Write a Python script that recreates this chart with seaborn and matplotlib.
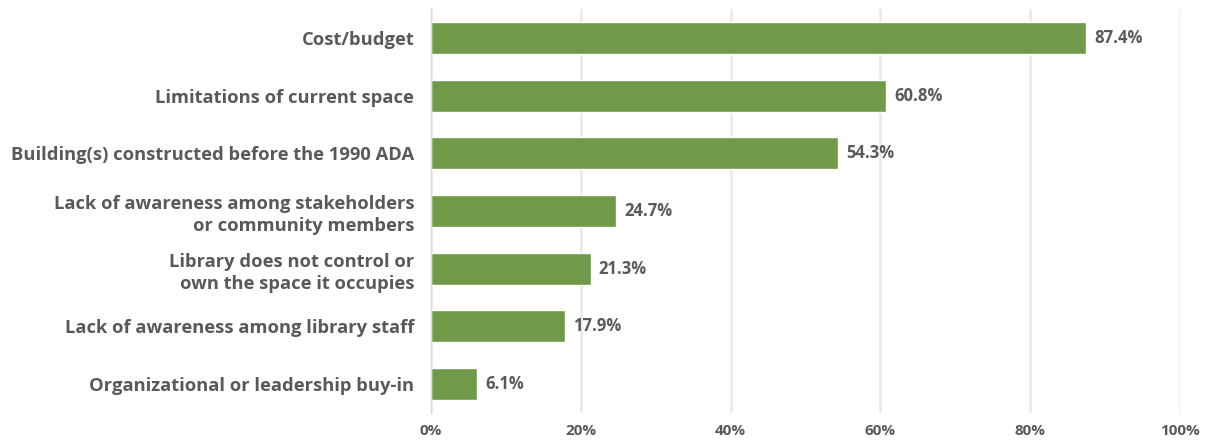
import matplotlib
matplotlib.use("Agg")
import matplotlib.pyplot as plt
import seaborn as sns
import pandas as pd
from matplotlib.ticker import FuncFormatter

categories = [
    "Cost/budget",
    "Limitations of current space",
    "Building(s) constructed before the 1990 ADA",
    "Lack of awareness among stakeholders\nor community members",
    "Library does not control or\nown the space it occupies",
    "Lack of awareness among library staff",
    "Organizational or leadership buy-in",
]
values = [87.4, 60.8, 54.3, 24.7, 21.3, 17.9, 6.1]
x_ticks = [0, 20, 40, 60, 80, 100]

df = pd.DataFrame({"category": categories, "value": values})

sns.set_theme(style="white")
plt.rcParams["font.family"] = ["Open Sans", "DejaVu Sans"]

text_color = "#595959"
bar_color = "#71994A"

fig = plt.figure(figsize=(12.09, 4.42), dpi=100)
ax = fig.add_axes([0.3565, 0.066, 0.6195, 0.913])

sns.barplot(data=df, x="value", y="category", color=bar_color,
            saturation=1, width=0.555, ax=ax, orient="h")

ax.set_xlim(0, 100)
ax.set_xticks(x_ticks)
ax.xaxis.set_major_formatter(FuncFormatter(lambda v, _: f"{v:.0f}%"))
ax.set_xlabel("")
ax.set_ylabel("")

ax.grid(axis="x", color="#E9E9E9", linewidth=1.8)
ax.set_axisbelow(True)
for side in ["top", "right", "bottom"]:
    ax.spines[side].set_visible(False)
ax.spines["left"].set_color("#D9D9D9")
ax.spines["left"].set_linewidth(1.0)

ax.tick_params(axis="y", length=0, pad=12, labelsize=13.2, labelcolor=text_color)
ax.tick_params(axis="x", length=0, pad=8, labelsize=11, labelcolor=text_color)
for lbl in ax.get_yticklabels():
    lbl.set_fontweight("bold")
    lbl.set_linespacing(1.3)
for lbl in ax.get_xticklabels():
    lbl.set_fontweight("bold")

for container in ax.containers:
    ax.bar_label(container, labels=[f"{v:.1f}%" for v in values], padding=6,
                 fontsize=12, fontweight="bold", color=text_color)

fig.savefig("out.png", dpi=100, facecolor="white")
